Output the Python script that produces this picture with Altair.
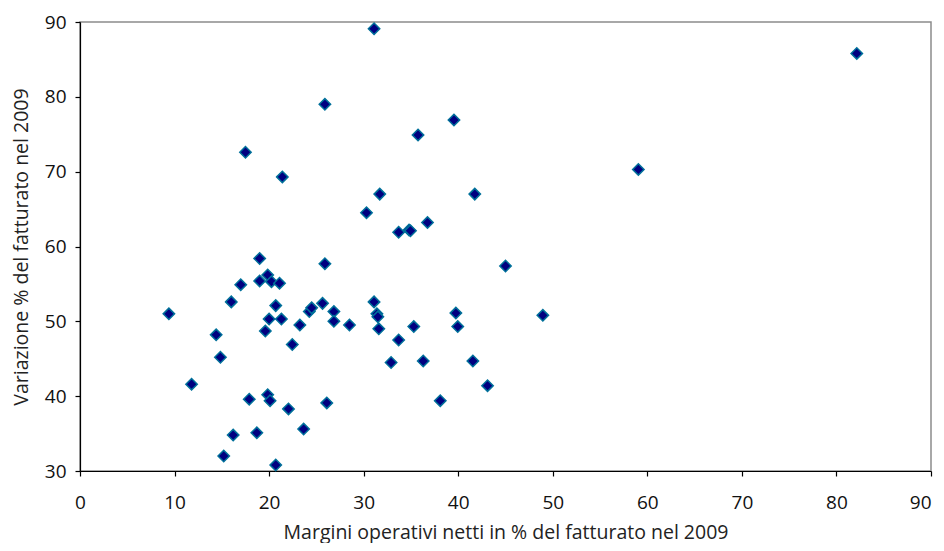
import altair as alt
import pandas as pd

# Margini operativi netti in % del fatturato nel 2009
x_vals = [9.4, 11.8, 14.4, 14.85, 15.2, 16.0, 16.2, 17.0, 17.5, 17.9,
          18.7, 19.0, 19.0, 19.6, 19.85, 19.85, 20.0, 20.1, 20.25, 20.7,
          20.7, 21.1, 21.4, 21.3, 22.05, 22.45, 23.25, 23.65, 24.25, 24.5,
          25.65, 25.9, 25.9, 26.1, 26.85, 26.85, 28.5, 30.3, 31.1, 31.1,
          31.4, 31.5, 31.7, 31.6, 32.9, 33.7, 33.7, 34.8, 34.95, 35.3,
          35.75, 36.3, 36.75, 38.1, 39.55, 39.75, 39.95, 41.55, 41.75, 43.1,
          45.0, 48.95, 59.05, 82.15]
# Variazione % del fatturato nel 2009
y_vals = [51.0, 41.6, 48.2, 45.2, 32.0, 52.6, 34.8, 54.9, 72.6, 39.6,
          35.1, 58.4, 55.4, 48.7, 56.2, 40.2, 50.3, 39.4, 55.3, 52.1,
          30.8, 55.1, 69.3, 50.3, 38.3, 46.9, 49.5, 35.6, 51.3, 51.8,
          52.4, 79.0, 57.7, 39.1, 51.3, 50.0, 49.5, 64.5, 89.1, 52.6,
          51.0, 50.6, 67.0, 49.0, 44.5, 61.9, 47.5, 62.2, 62.1, 49.3,
          74.9, 44.7, 63.2, 39.4, 76.9, 51.1, 49.3, 44.7, 67.0, 41.4,
          57.4, 50.8, 70.3, 85.8]

x_ticks = [0, 10, 20, 30, 40, 50, 60, 70, 80, 90]
y_ticks = [30, 40, 50, 60, 70, 80, 90]

df = pd.DataFrame({"x": x_vals, "y": y_vals})

FONT = "Open Sans"

chart = (
    alt.Chart(df)
    .mark_point(shape="diamond", filled=True, size=130, color="#000080",
                stroke="#00709A", strokeWidth=1.5, opacity=1)
    .encode(
        x=alt.X("x:Q", scale=alt.Scale(domain=[0, 90], nice=False, zero=False),
                axis=alt.Axis(values=x_ticks, title="Margini operativi netti in % del fatturato nel 2009",
                              titleX=425.5, titleY=67, titleBaseline="alphabetic",
                              labelPadding=17,
                              labelAlign=alt.ExprRef("datum.value == 90 ? 'right' : 'center'"))),
        y=alt.Y("y:Q", scale=alt.Scale(domain=[30, 90], nice=False, zero=False),
                axis=alt.Axis(values=y_ticks, title="Variazione % del fatturato nel 2009",
                              titleX=-53, titleY=224.5, titleBaseline="alphabetic",
                              labelPadding=9)),
    )
    .properties(
        width=851, height=449,
        autosize=alt.AutoSizeParams(type="none"),
        padding={"left": 72, "top": 14, "right": 5, "bottom": 72},
    )
    .configure_view(stroke="#8c8c8c", strokeWidth=1.5)
    .configure_axis(
        grid=False,
        domainColor="#000000", domainWidth=1.2,
        tickColor="#000000", tickSize=5, tickWidth=1.2,
        labelFont=FONT, labelFontSize=19, labelColor="#111111",
        titleFont=FONT, titleFontSize=19.5, titleFontWeight="normal", titleColor="#222222",
        labelFlush=False, labelOverlap=False,
    )
)

chart.save("out.html", embed_options={"renderer": "svg", "actions": False})
